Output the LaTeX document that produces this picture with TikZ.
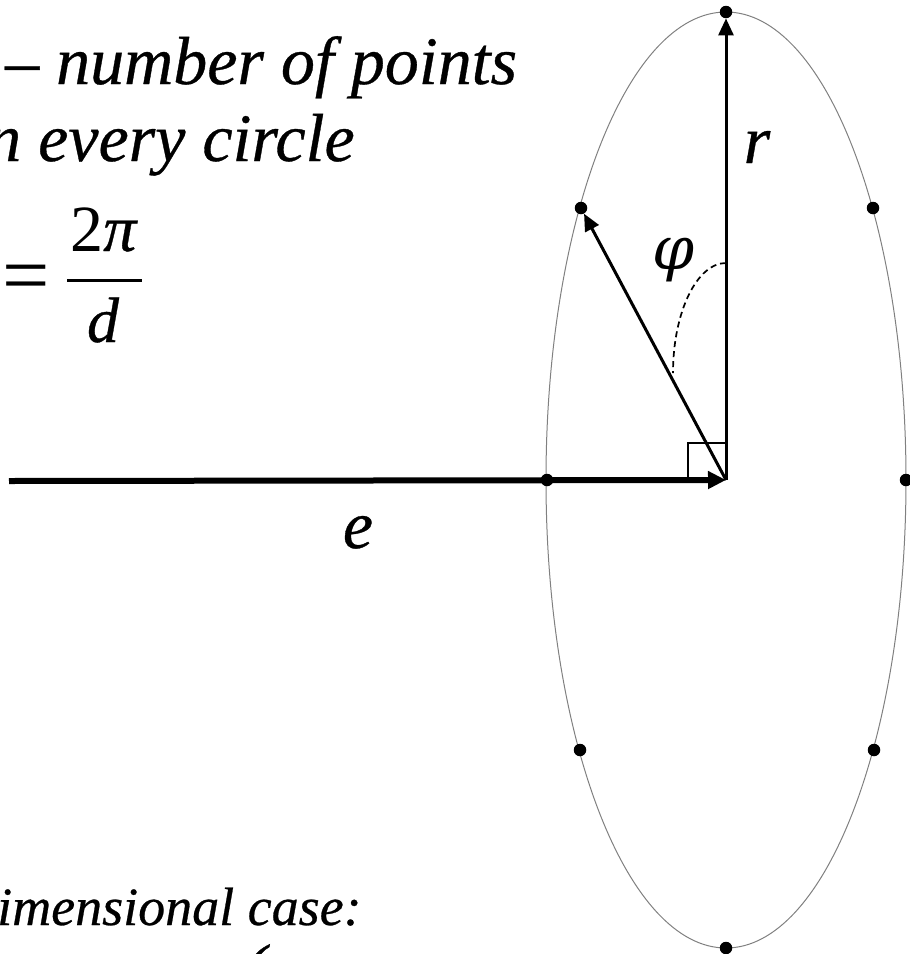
\documentclass[tikz,border=0pt]{standalone}
\usepackage{fontspec}
\setmainfont{Liberation Serif}[ItalicFeatures={FakeBold=0.5}]
\newfontfamily\phifont{DejaVu Serif}
\usetikzlibrary{arrows.meta}
\begin{document}
\begin{tikzpicture}[x=1pt,y=-1pt,
  bigtxt/.style={inner sep=0pt,font=\fontsize{68}{68}\selectfont\itshape},
  midtxt/.style={inner sep=0pt,font=\fontsize{64}{64}\selectfont\itshape},
  smalltxt/.style={inner sep=0pt,font=\fontsize{54}{54}\selectfont\itshape},
  dot/.style={circle,fill=black,inner sep=0pt,minimum size=12.5pt},
  vec/.style={line width=3pt,-{Triangle[length=17pt,width=15pt]}},
  axisvec/.style={line width=6pt,-{Triangle[length=18pt,width=17pt]}},
  orbit/.style={draw=gray,line width=1pt},
  anglearc/.style={line width=1.7pt,dash pattern=on 6pt off 4pt},
  rightmark/.style={line width=1.5pt}]
\useasboundingbox (0,0) rectangle (910,954);

% circle seen edge-on
\draw[orbit] (726,480) ellipse [x radius=180, y radius=468];

% points on the circle
\coordinate (O) at (726,480);
\coordinate (axisstart) at (9,481);
\node[dot] (ptop) at (726,12) {};
\node[dot] (pbot) at (726,948) {};
\node[dot] (pleft) at (547,480) {};
\node[dot] (pright) at (906,480) {};
\node[dot] (pul) at (581,208) {};
\node[dot] (pur) at (873,208) {};
\node[dot] (pll) at (580,750) {};
\node[dot] (plr) at (874,750) {};

% right-angle mark
\draw[rightmark] (688,480) -- (688,443) -- (726,443);

% dashed angle arc
\draw[anglearc] (726,263) .. controls (697,263) and (673,312) .. (673,373);

% axis vector e
\draw[axisvec] (axisstart) -- (O);
% radius vectors
\draw[vec] (O) -- (ptop);
\draw[vec] (O) -- (pul);

% labels
\node[bigtxt,anchor=base] (lr) at (757,163) {r};
\node[bigtxt,anchor=base] (le) at (358,548) {e};
\node[inner sep=0pt,font=\fontsize{60}{60}\selectfont\phifont\itshape] (lphi) at (673,260) {φ};

% text on the left (cut by the frame)
\node[bigtxt,anchor=base west] (t1) at (5,84) {– number of points};
\node[bigtxt,anchor=base west] (t2) at (-13,161) {n every circle};
\node[inner sep=0pt,font=\fontsize{84}{84}\selectfont] (eq) at (26,284) {=};
\node[inner sep=0pt,anchor=base,font=\fontsize{66}{66}\selectfont] (num) at (104,251) {2\textit{π}};
\node[midtxt,anchor=base] (den) at (103,342) {d};
\draw[line width=3pt] (67,280) -- (142,280);
\node[smalltxt,anchor=base west] (t3) at (-3,925) {imensional case:};
\node[bigtxt,anchor=north] (paren) at (255,944) {(};
\end{tikzpicture}
\end{document}
